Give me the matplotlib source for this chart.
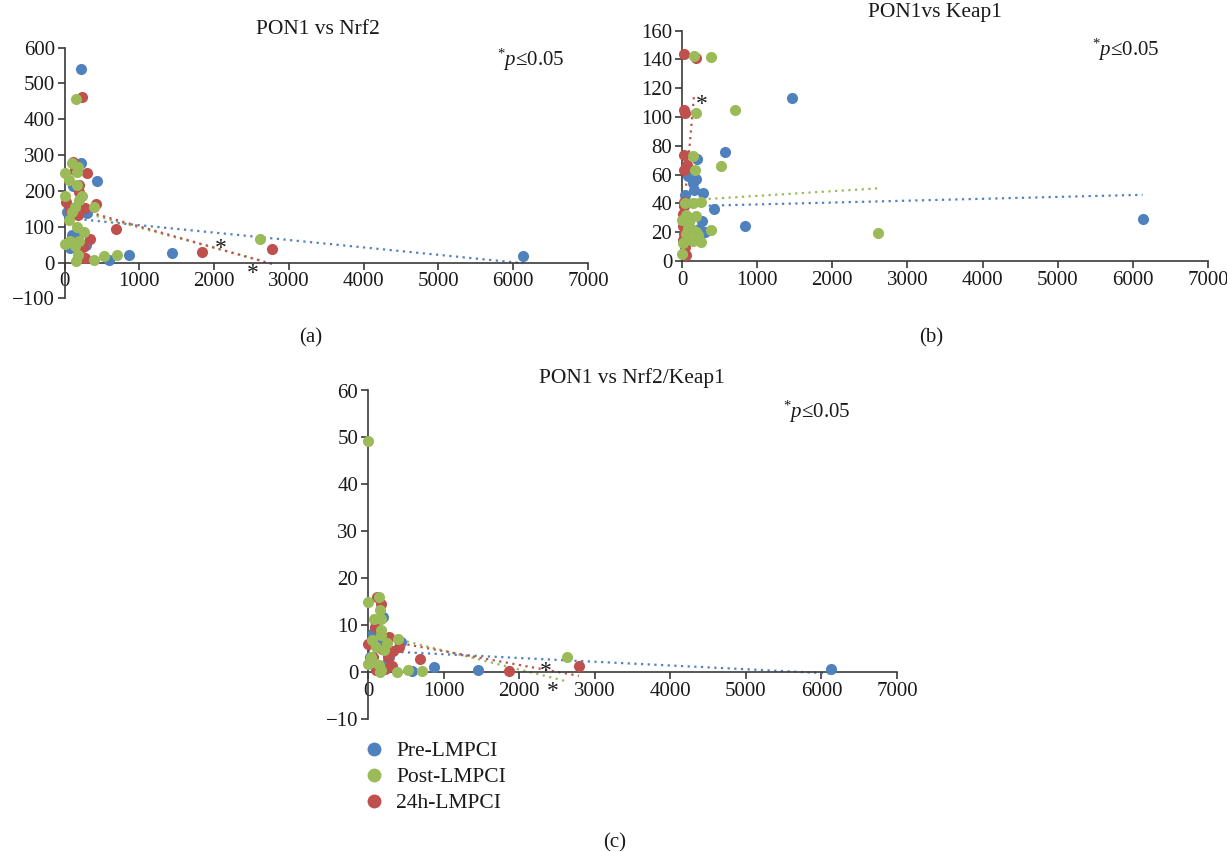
import matplotlib
matplotlib.use("Agg")
import matplotlib.pyplot as plt
from matplotlib.lines import Line2D
from matplotlib.transforms import offset_copy

plt.rcParams['font.family'] = ['Liberation Serif', 'DejaVu Serif']
plt.rcParams['mathtext.fontset'] = 'custom'
plt.rcParams['mathtext.rm'] = 'Liberation Serif'
plt.rcParams['mathtext.it'] = 'Liberation Serif:italic'

# ---------------- data ----------------
series_names = ["Pre-LMPCI", "Post-LMPCI", "24h-LMPCI"]
colors = {"Pre-LMPCI": "#4F81BD", "Post-LMPCI": "#9BBB59", "24h-LMPCI": "#C0504D"}

# Panel (a): PON1 vs Nrf2
a_pre_x = [215, 225, 430, 295, 115, 105, 70, 285, 140, 590, 865, 1435, 6130, 35, 60]
a_pre_y = [540, 279, 228, 138, 213, 77, 40, 50, 73, 7, 21, 27, 19, 140, 150]
a_post_x = [156, 102, 182, 4, 58, 169, 169, 13, 236, 191, 147, 392, 94, 58, 169, 267, 13, 191,
            138, 178, 156, 392, 525, 703, 2617, 80]
a_post_y = [456, 279, 268, 249, 231, 217, 254, 186, 186, 175, 156, 154, 142, 119, 99, 84, 52, 61,
            45, 21, 3, 6, 17, 20, 66, 59]
a_24h_x = [236, 120, 300, 200, 145, 25, 420, 270, 80, 190, 690, 335, 250, 268, 1840, 2770, 140, 185]
a_24h_y = [463, 282, 249, 216, 259, 170, 164, 152, 147, 198, 93, 65, 42, 13, 28, 39, 257, 133]

# Panel (b): PON1 vs Keap1
b_pre_x = [1460, 570, 205, 190, 75, 160, 145, 285, 45, 425, 270, 845, 300, 220, 6130, 100]
b_pre_y = [113, 76, 71, 57, 59, 49, 54, 47, 46, 36, 28, 24, 20, 22, 29, 30]
b_post_x = [164, 386, 191, 710, 151, 519, 173, 253, 142, 44, 53, 186, 0, 98, 386, 142, 53, 209,
            253, 9, 142, 0, 2614, 75, 186]
b_post_y = [142.6, 141.4, 103, 105, 73, 66, 63, 40.7, 40.5, 40, 32, 31, 28.5, 27, 21.5, 21.5, 19, 18,
            13.4, 12.3, 14, 4.6, 19.2, 22.7, 20]
b_24h_x = [22, 186, 31, 40, 22, 62, 31, 31, 9, 9, 31, 53, 9, 31, 20, 45]
b_24h_y = [143.5, 141, 105, 103, 73.6, 66.7, 63, 40.7, 33, 24, 19, 4, 14.6, 28.5, 38, 10]

# Panel (c): PON1 vs Nrf2/Keap1
c_pre_x = [200, 89, 67, 431, 22, 276, 578, 867, 1453, 6130, 180, 250]
c_pre_y = [11.7, 11.0, 8.3, 6.4, 3.2, 3.2, 0.2, 1.1, 0.4, 0.6, 7, 2]
c_post_x = [0, 0, 147, 164, 80, 178, 169, 169, 58, 391, 258, 111, 213, 44, 0, 142, 178, 156,
            387, 524, 711, 2636, 67]
c_post_y = [49.2, 14.9, 15.9, 13.3, 11.4, 11.4, 9.0, 7.8, 6.9, 7.0, 6.3, 5.3, 4.6, 3.2, 1.8, 1.6,
            0.4, 0, 0, 0.4, 0.2, 3.3, 2.1]
c_24h_x = [124, 178, 98, 0, 276, 409, 333, 187, 689, 320, 222, 1867, 2791, 111, 67, 267]
c_24h_y = [16.1, 14.4, 9.6, 6.0, 7.5, 5.3, 4.5, 5.0, 2.8, 1.4, 0.7, 0.2, 1.3, 0.4, 3.2, 3.2]

# Trend lines (start/end)
a_trend_x = {"Pre-LMPCI": [0, 6130], "Post-LMPCI": [0, 2640], "24h-LMPCI": [0, 2773]}
a_trend_y = {"Pre-LMPCI": [125, -2], "Post-LMPCI": [154, 5], "24h-LMPCI": [160, -4]}
b_trend_x = {"Pre-LMPCI": [0, 6130], "Post-LMPCI": [0, 2614], "24h-LMPCI": [0, 160]}
b_trend_y = {"Pre-LMPCI": [38, 46], "Post-LMPCI": [42, 50.5], "24h-LMPCI": [20, 115]}
c_trend_x = {"Pre-LMPCI": [0, 6130], "Post-LMPCI": [0, 2636], "24h-LMPCI": [0, 2791]}
c_trend_y = {"Pre-LMPCI": [4.6, -0.3], "Post-LMPCI": [8.6, -2.0], "24h-LMPCI": [7.4, -0.8]}

# significance asterisks
a_star_x, a_star_y = [2096, 2515], [54, -16]
b_star_x, b_star_y = [262], [112]
c_star_x, c_star_y = [2350, 2440], [1.1, -3.1]

titles = ["PON1 vs Nrf2", "PON1vs Keap1", "PON1 vs Nrf2/Keap1"]
panel_labels = ["(a)", "(b)", "(c)"]

# ---------------- figure ----------------
W, H = 1227, 852
fig = plt.figure(figsize=(W / 100, H / 100), dpi=100)

def fx(px):
    return px / W

def fy(py):
    return 1 - py / H

FS = 15
FS_T = 15.5
TXT = "#1a1a1a"
SPINE = "#3a3a3a"

def make_axes(l, r, t, b):
    return fig.add_axes([fx(l), fy(b), fx(r) - fx(l), fy(t) - fy(b)])

panels = [
    dict(ax=make_axes(64.5, 588, 47.7, 298.3), xs=(a_pre_x, a_post_x, a_24h_x), ys=(a_pre_y, a_post_y, a_24h_y),
         tx=a_trend_x, ty=a_trend_y, ylim=(-100, 600), yticks=range(-100, 601, 100),
         sx=a_star_x, sy=a_star_y),
    dict(ax=make_axes(682, 1208, 30.7, 261), xs=(b_pre_x, b_post_x, b_24h_x), ys=(b_pre_y, b_post_y, b_24h_y),
         tx=b_trend_x, ty=b_trend_y, ylim=(0, 160), yticks=range(0, 161, 20),
         sx=b_star_x, sy=b_star_y),
    dict(ax=make_axes(368, 897, 390.5, 719), xs=(c_pre_x, c_post_x, c_24h_x), ys=(c_pre_y, c_post_y, c_24h_y),
         tx=c_trend_x, ty=c_trend_y, ylim=(-10, 60), yticks=range(-10, 61, 10),
         sx=c_star_x, sy=c_star_y),
]

draw_order = [0, 2, 1]  # blue, red, green on top
for p in panels:
    ax = p["ax"]
    ax.set_xlim(0, 7000)
    ax.set_ylim(*p["ylim"])
    ax.set_xticks(range(0, 7001, 1000))
    ax.set_yticks(list(p["yticks"]))
    for s in ("top", "right"):
        ax.spines[s].set_visible(False)
    ax.spines["bottom"].set_position(("data", 0))
    for s in ("left", "bottom"):
        ax.spines[s].set_color(SPINE)
        ax.spines[s].set_linewidth(1.2)
    ax.tick_params(direction="out", length=5, width=1.2, color=SPINE, labelsize=FS, labelcolor=TXT, pad=2)
    ax.patch.set_alpha(0)
    for name in series_names:
        ax.plot(p["tx"][name], p["ty"][name], linestyle=(0, (1, 2)), linewidth=1.6,
                color=colors[name], zorder=2, clip_on=False)
    for i in draw_order:
        name = series_names[i]
        ax.scatter(p["xs"][i], p["ys"][i], s=64, color=colors[name], linewidths=0,
                   zorder=3, clip_on=False)
    star_tr = offset_copy(ax.transData, fig=fig, x=0, y=-5, units="dots")
    for x, y in zip(p["sx"], p["sy"]):
        ax.text(x, y, "*", fontsize=FS + 2, color=TXT, ha="center", va="center", zorder=4,
                transform=star_tr)

# titles, p-value notes, panel labels
fig.text(fx(318), fy(30), titles[0], fontsize=FS_T, color=TXT, ha="center", va="center")
fig.text(fx(935), fy(13), titles[1], fontsize=FS_T, color=TXT, ha="center", va="center")
fig.text(fx(632), fy(378), titles[2], fontsize=FS_T, color=TXT, ha="center", va="center")

ptxt = r"$^{*}\mathit{p}$≤0.05"
fig.text(fx(497), fy(60), ptxt, fontsize=FS, color=TXT, ha="left", va="center")
fig.text(fx(1092), fy(50), ptxt, fontsize=FS, color=TXT, ha="left", va="center")
fig.text(fx(783), fy(412), ptxt, fontsize=FS, color=TXT, ha="left", va="center")

fig.text(fx(311), fy(338), panel_labels[0], fontsize=FS, color=TXT, ha="center", va="center")
fig.text(fx(931), fy(338), panel_labels[1], fontsize=FS, color=TXT, ha="center", va="center")
fig.text(fx(615), fy(843), panel_labels[2], fontsize=FS, color=TXT, ha="center", va="center")

handles = [Line2D([], [], linestyle="none", marker="o", markersize=10, markerfacecolor=colors[n],
                  markeredgewidth=0) for n in series_names]
leg = fig.legend(handles, series_names, loc="upper left", bbox_to_anchor=(fx(363), fy(741)),
                 frameon=False, fontsize=FS + 0.5, handlelength=1.0, handletextpad=0.55,
                 labelspacing=0.28, borderpad=0, borderaxespad=0)
for t in leg.get_texts():
    t.set_color(TXT)

fig.savefig("out.png", dpi=100)
